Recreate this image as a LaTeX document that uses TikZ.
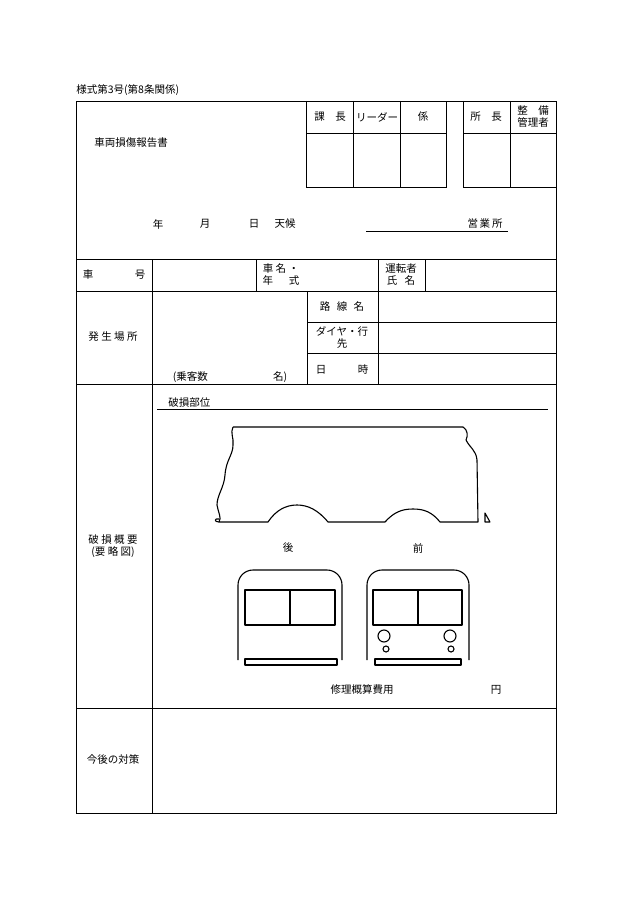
\documentclass[tikz,border=0pt]{standalone}
\usepackage{fontspec}
\setmainfont{Noto Sans CJK JP}
\begin{document}
\begin{tikzpicture}[x=1pt,y=-1pt,line width=0.6pt,
  t/.style={font=\fontsize{10.5}{12}\selectfont,inner sep=0pt},
  fig/.style={line width=1.1pt,line join=round}]
\useasboundingbox (0,0) rectangle (630,915);
\node[t,anchor=west] (title) at (76,90) {様式第3号(第8条関係)};
% outer
\draw (76,101) rectangle (556,813);
% approval boxes
\draw (306,101) -- (306,187) -- (446,187) -- (446,101);
\draw (463,101) -- (463,187) -- (556,187);
\draw (306,133) -- (446,133) (463,133) -- (556,133);
\foreach \x in {353,400} \draw (\x,101) -- (\x,187);
\draw (510,101) -- (510,187);
\node[t] (k1) at (330,117) {課\hspace{1em}長};
\node[t] (k2) at (377,117) {リーダー};
\node[t] (k3) at (423,117) {係};
\node[t] (k4) at (486,117) {所\hspace{1em}長};
\node[t,align=center] (k5) at (533,117) {整\hspace{1em}備\\管理者};
\node[t,anchor=west] (name) at (94,143) {車両損傷報告書};
% date row
\node[t] (y) at (158,224) {年};
\node[t] (m) at (205,224) {月};
\node[t] (d) at (254,224) {日};
\node[t] (w) at (285,224) {天候};
\node[t] (eig) at (485,224) {営\,業\,所};
\coordinate (u1) at (366,231); \coordinate (u2) at (508,231);
\draw (u1) -- (u2);
\draw (76,259) -- (556,259);
% row vehicle
\draw (76,291) -- (556,291);
\foreach \x in {256,378,425} \draw (\x,259) -- (\x,291);
\draw (152,259) -- (152,813);
\node[t] (sha) at (88,275) {車};
\node[t] (go) at (140,275) {号};
\node[t,align=center] (nm) at (281,275) {車 名 ・\\年\hspace{1.5em}式};
\node[t,align=center] (dr) at (401,275) {運転者\\氏\hspace{0.7em}名};
\draw (307,291) -- (307,384) (378,291) -- (378,384);
\draw (307,322) -- (556,322) (307,353) -- (556,353);
\node[t] (hb) at (113,337) {発 生 場 所};
\node[t] (jk) at (230,377) {(乗客数\hspace{6.2em}名)};
\node[t] (rs) at (342,307) {路\hspace{0.6em}線\hspace{0.6em}名};
\node[t,align=center] (dy) at (342,338) {ダイヤ・行\\先};
\node[t] (nj) at (342,369) {日\hspace{3em}時};
\draw (76,384) -- (556,384);
% damage
\node[t,align=center] (hg) at (113,546) {破 損 概 要\\(要 略 図)};
\node[t,anchor=west] (bb) at (168,403) {破損部位};
\coordinate (b1) at (157,409); \coordinate (b2) at (548,409);
\draw (b1) -- (b2);
% bus side
\draw[fig] (233,427) -- (463,427) .. controls (468,430) and (468,436) .. (466,440)
  .. controls (470,448) and (476,450) .. (477,460) -- (478,522) -- (440,522)
  .. controls (432,512) and (424,509) .. (413,509) .. controls (402,509) and (394,512) .. (385,522)
  -- (328,522) .. controls (318,510) and (308,505) .. (297,505) .. controls (286,505) and (276,510) .. (268,522)
  -- (219,522) .. controls (222,518) and (218,512) .. (217,505) .. controls (217,495) and (224,488) .. (225,475)
  .. controls (226,460) and (233,455) .. (233,445) .. controls (234,438) and (230,433) .. (233,427);
\draw[fig] (219,522) .. controls (214,522) and (214,518) .. (219,519);
\draw[fig] (485,513) -- (485,522) -- (490,522) -- cycle;
\node[t] (back) at (288,548) {後};
\node[t] (front) at (418,548) {前};
% front views
\draw[fig] (238,660) -- (238,585) arc (180:270:15) -- (327,570) arc (270:360:15) -- (342,660);
\draw[fig] (245,590) rectangle (335,625) (290,590) -- (290,625);
\draw[fig] (245,659) rectangle (337,665);
\draw[fig] (367,660) -- (367,585) arc (180:270:15) -- (454,570) arc (270:360:15) -- (469,660);
\draw[fig] (373,590) rectangle (462,625) (418,590) -- (418,625);
\draw[fig] (375,659) rectangle (461,665);
\draw[fig] (384,636) circle (6) (386,649) circle (3) (450,636) circle (6) (451,649) circle (3);
\node[t] (cost) at (362,690) {修理概算費用};
\node[t] (yen) at (496,690) {円};
\draw (76,708) -- (556,708);
\node[t] (tai) at (113,760) {今後の対策};
\end{tikzpicture}
\end{document}
